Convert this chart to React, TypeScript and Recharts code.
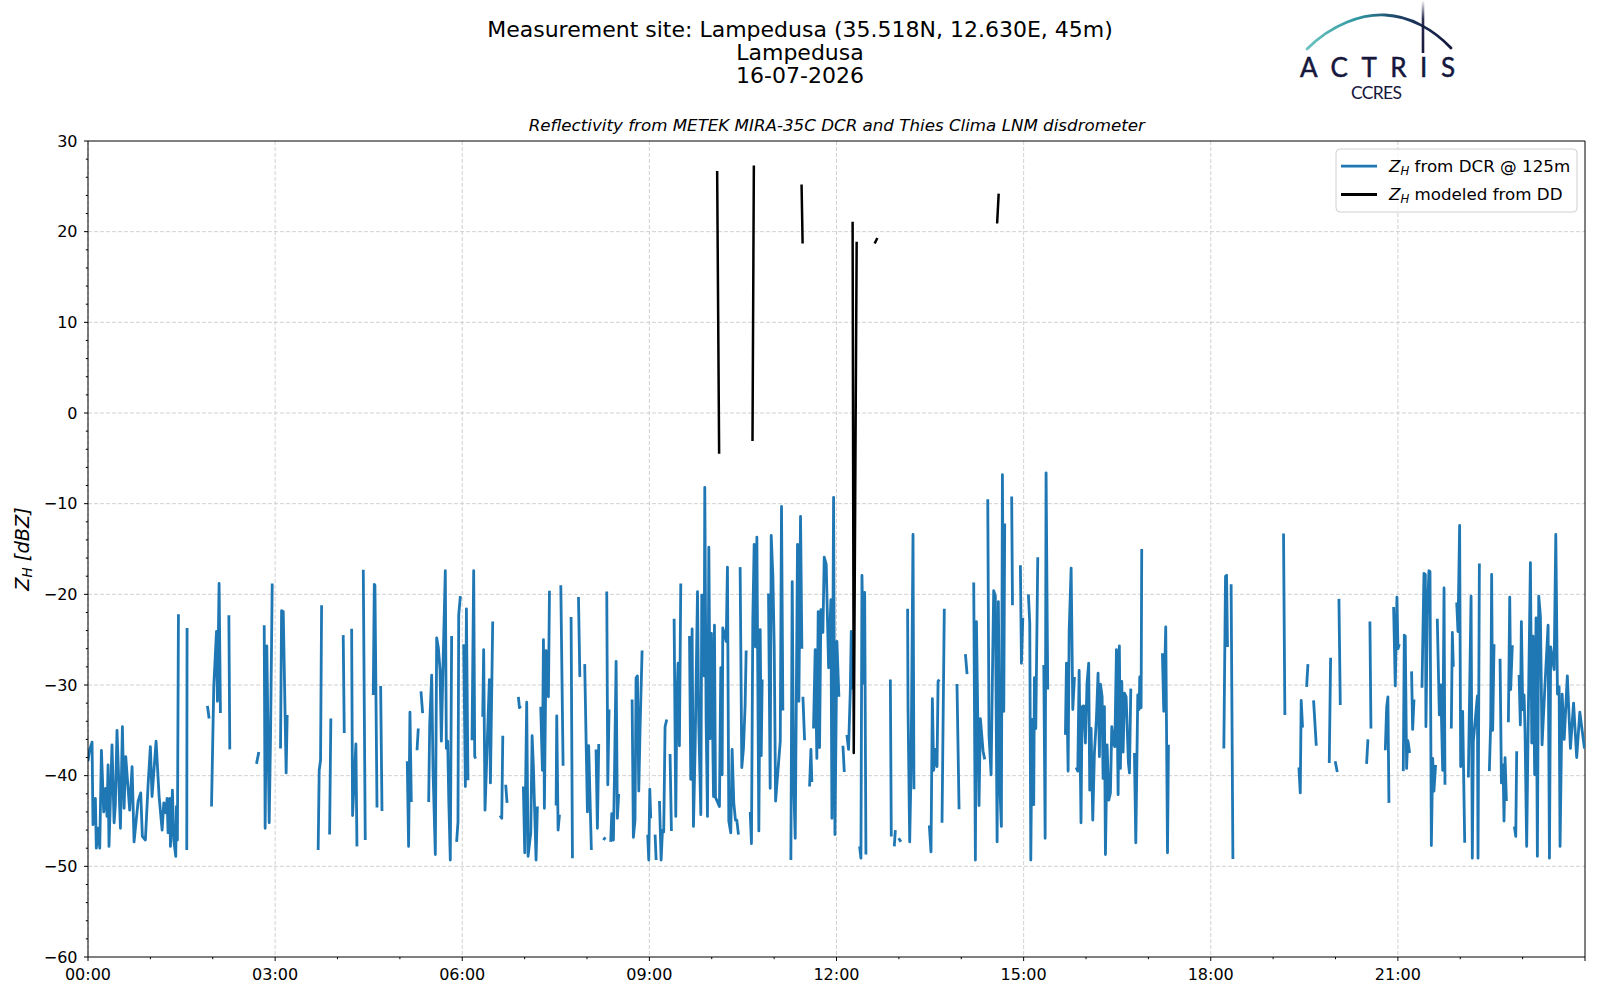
import React from 'react';
import { LineChart, Line, XAxis, YAxis, CartesianGrid, ReferenceLine } from 'recharts';

type Pt = [number, number];

// Time in minutes since 00:00 UTC, value in dBZ. Each inner array is one continuous segment.
const dcr00to04: Pt[][] = [
  [[0, -38.4], [1.5, -37.2], [3.9, -36.3], [4.8, -45.4], [7.1, -42.5], [8.0, -48], [9.7, -45.8], [11.3, -48], [12.9, -37.2], [15.1, -44], [17.0, -41.4], [18.3, -44.5], [19.3, -38.8], [20.2, -47.8], [23.1, -36.6], [25.1, -45.2], [26.3, -43.2], [27.9, -35], [31.2, -45.8], [33.1, -34.6], [34.7, -43.6], [36.3, -37.9], [40.1, -43.8], [42.4, -39], [44.3, -47.3], [48.2, -42.8], [50.7, -41.9], [52.3, -46.7], [55.2, -47.1], [57.8, -41], [60.0, -36.8], [61.6, -42.3], [65.5, -36.2], [68.4, -42.3], [71.3, -46], [72.9, -43], [74.8, -44.1], [76.1, -42.5], [77.0, -46.3], [78.7, -42.5], [79.3, -47.8], [81.2, -41.6], [82.5, -47.1], [84.4, -48.9], [85.1, -43.4], [86.0, -47.1], [87.0, -22.2]],
  [[95.0, -48.2], [95.3, -23.7]],
  [[114.9, -32.3], [116.5, -33.7]],
  [[118.8, -43.4], [121.0, -30.1], [123.6, -24.1], [124.5, -31.8], [126.1, -18.8], [127.4, -33.1]],
  [[135.5, -22.3], [136.4, -37.1]],
  [[162.1, -38.7], [164.3, -37.4]],
  [[169.5, -23.4], [170.4, -45.8], [172.0, -25.7], [174.3, -45.2], [175.6, -35.6], [177.2, -18.8]],
  [[185.2, -37], [186.2, -21.8], [187.8, -21.9], [190.6, -39.7], [191.6, -33.3]],
  [[221.4, -48.2], [222.4, -39.4], [223.7, -38.3], [224.7, -21.2]],
  [[232.4, -46.5], [233.6, -33.7]],
];

const dcr04to08: Pt[][] = [
  [[245.5, -24.5], [246.5, -35.3]],
  [[253.6, -23.8], [254.5, -44.4], [257.7, -36.5], [258.7, -47.8]],
  [[264.8, -17.3], [266.7, -47.1]],
  [[274.4, -31.1], [275.4, -18.9], [276.0, -19], [278.0, -43.5]],
  [[281.5, -30.1], [282.8, -43.9]],
  [[307.1, -38.4], [308.4, -47.8], [309.7, -33], [311.0, -42.9]],
  [[316.5, -37.2], [317.7, -34.8]],
  [[320.3, -30.7], [321.9, -33.1]],
  [[327.7, -42.9], [328.7, -34.3], [330.6, -28.9], [331.9, -39.4], [334.1, -48.7], [335.4, -24.8], [337.0, -25.9], [338.6, -28.3], [339.9, -36.2], [341.2, -29.3], [343.7, -17.4], [344.7, -37], [346.0, -36.2], [347.0, -42.5], [348.5, -49.3], [349.8, -24.6]],
  [[354.6, -47.3], [355.9, -45.1], [356.6, -22.3], [358.2, -20.2]],
  [[361.4, -25.5], [363.0, -41.2], [364.0, -21.6], [365.5, -40.5]],
  [[369.4, -36.1], [371.0, -17.4], [372.0, -37.9], [373.0, -38.1]],
  [[379.7, -33.5], [380.6, -26.1], [381.9, -43.8], [386.1, -29.4], [387.1, -40.8], [389.3, -23]],
  [[396.4, -44.4], [398.0, -44.7], [399.0, -35.6]],
  [[401.8, -41], [403.1, -43]],
  [[414.0, -31.3], [415.0, -32.5], [416.3, -32.3]],
  [[418.8, -41.2], [420.1, -48.5], [422.0, -31.9], [423.3, -48.9], [425.9, -46.3], [427.2, -35.6], [428.4, -38.9], [431.0, -49.3], [432.3, -43.4]],
  [[435.5, -32.4], [437.1, -39.4], [438.1, -25], [439.0, -43.6], [440.6, -26.2], [442.9, -31.3], [443.9, -19.6]],
  [[450.3, -43.3], [450.9, -33.4], [452.2, -46], [453.5, -44.3]],
  [[454.8, -19], [457.0, -38.9]],
  [[464.7, -22.5], [466.0, -49.1]],
  [[471.8, -20.3], [473.1, -29], [473.5, -29.1]],
  [[477.8, -27.7], [480.4, -44], [481.6, -36.7], [484.2, -48.2]],
];

const dcr08to12: Pt[][] = [
  [[488.7, -37.1], [490.0, -45.8], [491.3, -36.5]],
  [[495.8, -47.1], [497.7, -46.8]],
  [[499.0, -19.7], [500.0, -41], [501.2, -32.7]],
  [[502.8, -47.3], [503.8, -44.2], [505.4, -47.1], [506.4, -40.1], [508.0, -27.4], [509.2, -44.7], [510.5, -42]],
  [[523.4, -31.6], [524.6, -46.8], [526.2, -44.9], [527.2, -29.2], [528.5, -29], [529.8, -41.7], [531.1, -34.6], [533.0, -26.2]],
  [[538.4, -46.5], [539.4, -49.3], [540.4, -41.5], [541.3, -44.7]],
  [[545.5, -46.5], [546.5, -49.3]],
  [[549.7, -42.8], [551.3, -49.3], [552.6, -46], [553.8, -46.2], [555.1, -34.6], [556.7, -33.8]],
  [[559.9, -37.6], [561.2, -46.1]],
  [[563.8, -22.7], [565.4, -44.5], [566.4, -31.9], [567.6, -27.6], [568.9, -36.7], [570.2, -18.8]],
  [[578.6, -24.6], [579.8, -40.4], [581.1, -23.8], [582.4, -45.6], [584.0, -37], [586.3, -19.7], [587.5, -34.2], [589.5, -44.3], [590.4, -20.1], [591.4, -20.1], [592.7, -29], [593.3, -8.2], [594.6, -34], [595.9, -44.5], [597.2, -14.8], [598.5, -35.9], [599.7, -24.3], [601.7, -42.3], [602.6, -23.4], [603.6, -42.4], [607.4, -43.4], [608.7, -28.1], [610.0, -39.9], [610.6, -23.7], [613.9, -25.2], [615.1, -17], [616.4, -45], [618.3, -46.3], [619.6, -37.1], [621.2, -43], [622.8, -44.9], [624.1, -44.9], [625.7, -46.5]],
  [[627.3, -17], [628.9, -39.1], [630.5, -37], [632.1, -32.2], [633.1, -26.2]],
  [[637.0, -44], [638.2, -47.5], [639.5, -22.8], [640.8, -14.5], [642.1, -25.8], [643.4, -13.7], [645.3, -46.1], [646.6, -23.9], [647.6, -37.8], [648.5, -29.4]],
  [[654.6, -19.9], [656.2, -41.4], [657.2, -13.5], [658.8, -18], [660.1, -25.8], [661.4, -42.8], [665.9, -36.2], [667.1, -10.3], [668.4, -32.8]],
  [[676.1, -49.3], [677.4, -18.6], [678.7, -40.5], [680.3, -46.9], [682.5, -14.5], [683.8, -31.8], [685.4, -11.4], [686.7, -26]],
  [[687.7, -31.3], [689.3, -36.1]],
  [[694.1, -41.2], [695.4, -37.1], [696.3, -40.7]],
  [[697.9, -34.8], [699.5, -26.1], [701.1, -38.1], [702.4, -21.9], [703.7, -36.9], [705.0, -21.7], [706.9, -24.2], [708.2, -15.9], [710.1, -16.7], [712.4, -28.1], [714.6, -20.6], [715.6, -44.7], [717.2, -9.3], [718.5, -46.5], [720.4, -25.2], [722.3, -31.3]],
];

const dcr12to16: Pt[][] = [
  [[726.2, -36.7], [727.5, -39.6]],
  [[730.0, -35.5], [731.6, -37.1], [733.3, -30.5], [734.2, -24.1], [734.9, -30.5]],
  [[742.2, -47.8], [743.5, -49.1], [744.5, -17.9], [746.1, -29.8], [747.1, -19.8], [748.3, -48.7]],
  [[771.8, -29.4], [772.7, -46.7]],
  [[775.6, -47.8], [776.6, -46]],
  [[779.8, -46.9], [782.0, -47.3]],
  [[788.4, -21.6], [788.8, -32.4], [790.4, -47.3], [791.7, -39.4], [793.6, -13.4], [794.5, -41.5]],
  [[809.3, -45.5], [810.9, -48.4], [812.2, -31.5], [813.5, -39.4], [815.1, -37.1], [816.7, -39], [817.7, -29.6], [818.9, -29.4]],
  [[821.5, -45.2], [823.7, -21.6]],
  [[835.9, -29.9], [837.9, -43.7]],
  [[844.0, -26.6], [845.6, -28.8]],
  [[852.0, -18.7], [853.6, -49.3], [854.6, -23], [857.1, -43.3], [858.4, -33.7], [861.0, -37.3], [862.6, -38.2]],
  [[865.5, -9.5], [866.7, -35.5], [868.7, -39.9], [870.0, -28.9], [871.2, -19.6], [872.8, -20.2], [874.5, -47.3], [875.7, -20.8], [877.3, -41.7], [878.6, -45.6], [879.6, -6.8], [880.9, -32.9], [881.8, -12.2]],
  [[888.5, -9.2], [889.3, -21.2]],
  [[896.9, -16.8], [897.9, -27.6], [899.2, -22.6]],
  [[904.6, -20], [905.9, -23.2], [906.9, -49.3], [908.1, -33.8], [909.7, -43.2], [910.4, -29.2], [911.7, -34.8], [913.6, -15.9]],
  [[919.4, -27.8], [920.7, -46.9], [921.6, -6.6], [923.2, -30.5]],
  [[940.2, -35.5], [941.2, -27.6], [942.8, -39.5], [943.8, -24.1], [945.7, -17.1], [947.3, -32.7], [948.9, -29.1]],
  [[950.5, -39.1], [952.1, -39.5], [953.4, -28.4], [955.2, -45.2], [956.2, -32.4], [957.8, -32.3], [959.4, -36.4], [961.0, -29.8], [962.6, -27.6], [963.6, -41.6], [964.9, -34.8], [966.5, -44.9], [968.1, -37.5], [970.0, -33.8], [971.6, -28.7], [972.9, -37.9], [973.9, -29.9], [975.5, -31.3], [976.4, -40.3], [977.7, -32.4], [978.7, -48.7], [980.3, -36.6], [981.9, -42.7], [983.5, -41.9], [984.8, -34.6], [986.4, -36.4], [987.7, -36.8], [989.3, -26.1], [990.9, -42.1], [992.1, -25.7], [993.1, -39.2], [994.4, -29.6], [995.7, -37.4], [997.0, -30.9], [998.6, -31.3], [1000.8, -38.6], [1001.8, -39.7], [1003.1, -30.4]],
];

const dcr16to20: Pt[][] = [
  [[1006.6, -37.5], [1007.9, -47.4], [1009.8, -31.1], [1011.1, -32.7], [1011.7, -29.1], [1013.0, -32.5], [1013.6, -15]],
  [[1033.5, -26.5], [1034.8, -32.9], [1036.7, -23.6], [1038.4, -48.5], [1039.3, -36.6]],
  [[1092.6, -37], [1094.2, -18], [1095.2, -17.9], [1096.1, -25.8]],
  [[1099.6, -18.9], [1101.3, -49.2]],
  [[1150.0, -13.3], [1151.3, -33.3]],
  [[1164.8, -39.1], [1166.1, -41.9], [1167.0, -31.7], [1168.3, -34.7]],
  [[1172.2, -30.2], [1173.5, -27.7]],
  [[1178.9, -31.7], [1181.5, -36.7]],
  [[1194.0, -38.6], [1195.3, -27]],
  [[1199.7, -38.4], [1201.7, -39.6]],
];

const dcr20to24: Pt[][] = [
  [[1203.3, -20.5], [1204.6, -32.2]],
  [[1229.9, -38.7], [1231.2, -36]],
  [[1233.1, -23], [1234.1, -34.8]],
  [[1247.9, -37.2], [1249.2, -32.5], [1250.4, -31.3], [1251.4, -43]],
  [[1255.9, -21.4], [1257.5, -30.1], [1259.1, -20.3], [1260.1, -26], [1261.4, -25.5]],
  [[1265.2, -39.5], [1266.2, -24.5], [1267.1, -24.6], [1268.4, -39.2], [1269.4, -36.1], [1270.0, -36.4], [1271.3, -37.5]],
  [[1273.2, -28.5], [1274.2, -34.9], [1275.5, -31.6]],
  [[1283.2, -30.3], [1285.1, -17.7], [1286.4, -17.8], [1287.0, -34.6], [1288.3, -22.3], [1289.9, -17.4], [1290.9, -17.5], [1292.2, -47.7], [1293.5, -38.1], [1294.7, -41.7], [1296.3, -38.8]],
  [[1297.9, -22.7], [1299.9, -33.3], [1301.2, -30], [1303.1, -39.4], [1304.4, -19.3], [1305.3, -41]],
  [[1311.4, -34.8], [1312.4, -24.2], [1313.3, -28]],
  [[1316.6, -20.9], [1317.8, -24.1], [1319.4, -12.4], [1320.4, -39], [1322.3, -32.9], [1324.3, -47.4]],
  [[1327.8, -40.2], [1330.4, -20.2], [1331.6, -49.1], [1332.6, -36.2], [1336.5, -31.2], [1337.1, -49.1], [1338.4, -16.6]],
  [[1348.0, -39.5], [1349.3, -34.2], [1350.2, -17.8], [1351.2, -35], [1352.5, -25.5]],
  [[1358.3, -27.1], [1359.6, -40.8], [1361.2, -38.8], [1362.1, -45], [1363.1, -38], [1364.4, -42.8]],
  [[1366.3, -34.1], [1367.6, -20.3], [1368.5, -30.5], [1370.1, -25.6]],
  [[1372.1, -45.6], [1373.4, -46.7], [1374.3, -37.3]],
  [[1376.6, -28.9], [1377.8, -34.4], [1378.8, -23], [1380.1, -32.7], [1381.4, -31.1], [1382.3, -35], [1383.9, -47.8], [1385.2, -35.5], [1387.5, -16.5], [1388.8, -36.4], [1390.0, -24.6], [1391.6, -39.9], [1392.9, -22.6], [1394.2, -48.9], [1395.5, -20.2], [1397.1, -22.4], [1398.7, -36.6], [1401.5, -30], [1404.5, -23.4], [1405.8, -49.1], [1407.0, -25.8], [1410.3, -28.3], [1411.9, -13.4], [1413.5, -31], [1415.1, -30.2], [1416.0, -47.8], [1418, -31], [1420, -36], [1423, -29], [1426, -37], [1429, -32], [1432, -38], [1435, -33], [1439.5, -37]],
];

// Z_H modeled from disdrometer data
const ddSegments: Pt[][] = [
  [[605.2, 26.7], [607.1, -4.5]],
  [[639.2, -3.1], [640.5, 27.3]],
  [[686.4, 25.2], [687.4, 18.7]],
  [[735.5, 21.1], [736.6, -37.5], [739.4, 18.9]],
  [[756.7, 18.7], [759.3, 19.3]],
  [[874.5, 20.9], [876.0, 24.2]],
];

const xMinorTicks = Array.from({ length: 25 }, (_, i) => i * 60);
const xMajorTicks = [0, 180, 360, 540, 720, 900, 1080, 1260, 1440];
const xTickLabels = ['00:00', '03:00', '06:00', '09:00', '12:00', '15:00', '18:00', '21:00', ''];
const yMinorTicks = Array.from({ length: 46 }, (_, i) => -60 + i * 2);
const yMajorTicks = [-60, -50, -40, -30, -20, -10, 0, 10, 20, 30];
const xGridValues = [0, 180, 360, 540, 720, 900, 1080, 1260];
const yGridValues = [-50, -40, -30, -20, -10, 0, 10, 20];

const titleLines = ['Measurement site: Lampedusa (35.518N, 12.630E, 45m)', 'Lampedusa', '16-07-2026'];
const subtitle = 'Reflectivity from METEK MIRA-35C DCR and Thies Clima LNM disdrometer';

function toRows(segments: Pt[][]) {
  const rows: { t: number; v: number | null }[] = [];
  let prevEnd: number | null = null;
  segments.forEach((seg) => {
    if (prevEnd !== null) rows.push({ t: (prevEnd + seg[0][0]) / 2, v: null });
    seg.forEach(([t, v]) => rows.push({ t, v }));
    prevEnd = seg[seg.length - 1][0];
  });
  return rows;
}

const dcrRows = toRows([...dcr00to04, ...dcr04to08, ...dcr08to12, ...dcr12to16, ...dcr16to20, ...dcr20to24]);
const ddRows = toRows(ddSegments);

const FONT = 'DejaVu Sans';
const minus = (v: number) => (v < 0 ? '\u2212' + Math.abs(v) : String(v));

const YTick = (props: any) => {
  const { x, y, payload } = props;
  const v = payload.value as number;
  const major = yMajorTicks.includes(v);
  return (
    <g>
      <line x1={x - (major ? 4 : 2.2)} x2={x} y1={y} y2={y} stroke="#000" strokeWidth={1} />
      {major && (
        <text x={x - 10.5} y={y} dy="0.36em" textAnchor="end" fontSize={16} fontFamily={FONT} fill="#000">
          {minus(v)}
        </text>
      )}
    </g>
  );
};

const XTick = (props: any) => {
  const { x, y, payload } = props;
  const v = payload.value as number;
  const idx = xMajorTicks.indexOf(v);
  const major = idx >= 0;
  return (
    <g>
      <line x1={x} x2={x} y1={y} y2={y + (major ? 4 : 2.2)} stroke="#000" strokeWidth={1} />
      {major && xTickLabels[idx] && (
        <text x={x} y={y + 23} textAnchor="middle" fontSize={16} fontFamily={FONT} fill="#000">
          {xTickLabels[idx]}
        </text>
      )}
    </g>
  );
};

const Overlay = () => (
  <svg width={1600} height={1000} style={{ position: 'absolute', left: 0, top: 0, pointerEvents: 'none' }}>
    <defs>
      <linearGradient id="arcGrad" x1="1307" y1="0" x2="1450" y2="0" gradientUnits="userSpaceOnUse">
        <stop offset="0" stopColor="#6cc3bf" />
        <stop offset="0.35" stopColor="#2f98a3" />
        <stop offset="0.65" stopColor="#1c3f63" />
        <stop offset="1" stopColor="#15173d" />
      </linearGradient>
      <linearGradient id="mastGrad" x1="0" y1="0" x2="0" y2="54" gradientUnits="userSpaceOnUse">
        <stop offset="0" stopColor="#15173d" stopOpacity="0" />
        <stop offset="0.35" stopColor="#15173d" stopOpacity="0.9" />
        <stop offset="1" stopColor="#15173d" stopOpacity="1" />
      </linearGradient>
    </defs>
    {titleLines.map((s, i) => (
      <text key={i} x={800} y={36.5 + i * 23} textAnchor="middle" fontSize={22} fontFamily={FONT} fill="#000">
        {s}
      </text>
    ))}
    <text x={836.8} y={131} textAnchor="middle" fontSize={16.7} fontStyle="italic" fontFamily={FONT} fill="#000">
      {subtitle}
    </text>
    <text transform="translate(23,549) rotate(-90)" textAnchor="middle" fontSize={19.4} fontFamily={FONT} fill="#000" dy="0.3em">
      <tspan fontStyle="italic">Z</tspan>
      <tspan fontStyle="italic" fontSize="70%" dy="0.25em">H</tspan>
      <tspan dy="-0.17em" fontStyle="italic"> [dBZ]</tspan>
    </text>
    {/* legend */}
    <rect x={1336} y={149} width={241} height={63} rx={4} ry={4} fill="#ffffff" fillOpacity={0.8} stroke="#d0d0d0" strokeWidth={1} />
    <line x1={1341} x2={1377} y1={166.2} y2={166.2} stroke="#1f77b4" strokeWidth={2.8} />
    <line x1={1341} x2={1377} y1={194.5} y2={194.5} stroke="#000" strokeWidth={2.8} />
    <text x={1389} y={172} fontSize={16.7} fontFamily={FONT} fill="#000">
      <tspan fontStyle="italic">Z</tspan>
      <tspan fontStyle="italic" fontSize="70%" dy="0.25em">H</tspan>
      <tspan dy="-0.175em"> from DCR @ 125m</tspan>
    </text>
    <text x={1389} y={200.3} fontSize={16.7} fontFamily={FONT} fill="#000">
      <tspan fontStyle="italic">Z</tspan>
      <tspan fontStyle="italic" fontSize="70%" dy="0.25em">H</tspan>
      <tspan dy="-0.175em"> modeled from DD</tspan>
    </text>
    {/* ACTRIS logo */}
    <path d="M1307,49 C1332,24 1362,14 1385,15 C1410,16 1434,30 1451,48" fill="none" stroke="url(#arcGrad)" strokeWidth={2.8} strokeLinecap="round" />
    <line x1={1423} x2={1423} y1={1} y2={53} stroke="url(#mastGrad)" strokeWidth={2.6} />
    <text x={1300} y={77.3} fontSize={26} fontFamily="Lato" fill="#15173d" stroke="#15173d" strokeWidth={0.5} textLength={155} lengthAdjust="spacing">
      ACTRIS
    </text>
    <text x={1351} y={99.3} fontSize={17.5} fontFamily="Lato" fill="#15173d" textLength={51} lengthAdjust="spacing">
      CCRES
    </text>
  </svg>
);

export default function App() {
  return (
    <div style={{ position: 'absolute', left: 0, top: 0, width: 1600, height: 1000, background: '#fff' }}>
      <LineChart width={1600} height={1000} margin={{ top: 141, right: 15, bottom: 0, left: 0 }}>
        <CartesianGrid
          stroke="#cccccc"
          strokeDasharray="4 2"
          strokeWidth={0.9}
          horizontalValues={yGridValues}
          verticalValues={xGridValues}
        />
        <XAxis
          type="number"
          dataKey="t"
          domain={[0, 1440]}
          ticks={xMinorTicks}
          interval={0}
          allowDataOverflow
          height={43}
          tickLine={false}
          tickSize={0}
          tickMargin={0}
          tick={<XTick />}
          axisLine={{ stroke: '#000', strokeWidth: 1 }}
        />
        <YAxis
          type="number"
          domain={[-60, 30]}
          ticks={yMinorTicks}
          interval={0}
          allowDataOverflow
          width={88}
          tickLine={false}
          tickSize={0}
          tickMargin={0}
          tick={<YTick />}
          axisLine={{ stroke: '#000', strokeWidth: 1 }}
        />
        <ReferenceLine y={30} stroke="#000" strokeWidth={1} />
        <ReferenceLine x={1440} stroke="#000" strokeWidth={1} />
        <Line
          data={dcrRows}
          dataKey="v"
          type="linear"
          stroke="#1f77b4"
          strokeWidth={2.8}
          strokeLinejoin="round"
          dot={false}
          connectNulls={false}
          isAnimationActive={false}
        />
        <Line
          data={ddRows}
          dataKey="v"
          type="linear"
          stroke="#000000"
          strokeWidth={2.5}
          strokeLinejoin="round"
          dot={false}
          connectNulls={false}
          isAnimationActive={false}
        />
      </LineChart>
      <Overlay />
    </div>
  );
}
